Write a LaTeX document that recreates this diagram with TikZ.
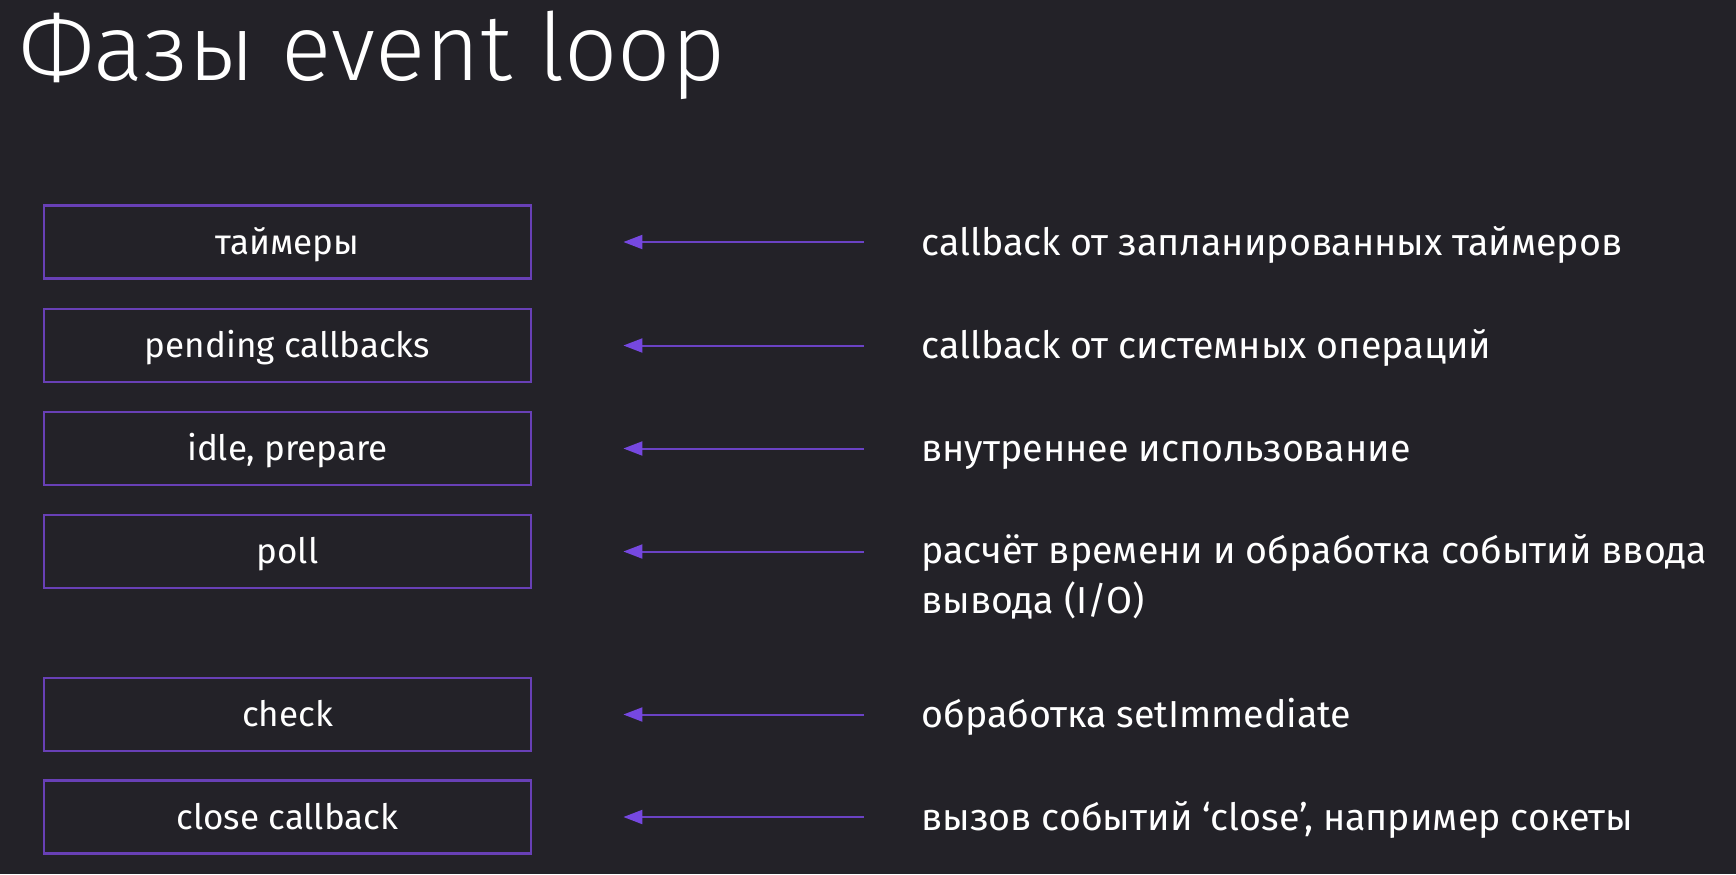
\documentclass[tikz,border=0pt]{standalone}
\usepackage{fontspec}
\setmainfont{Fira Sans}
\newfontfamily\titlefont{Fira Sans Light}
\usetikzlibrary{arrows.meta}
\definecolor{bg}{RGB}{35,34,40}
\definecolor{frame}{RGB}{104,64,182}
\definecolor{arrline}{RGB}{106,66,196}
\definecolor{arrhead}{RGB}{118,72,224}
\tikzset{
  phase/.style={draw=frame, line width=1.4pt, rectangle, inner sep=0pt,
    minimum width=243.5pt, minimum height=36.5pt, text=white,
    font=\fontsize{17.5}{21}\selectfont, text height=14pt, text depth=2pt},
  desc/.style={anchor=base west, inner sep=0pt, text=white, align=left,
    font=\fontsize{18.8}{25}\selectfont},
  arr/.style={draw=arrline, line width=1pt,
    -{Triangle[length=9.5pt,width=7pt,color=arrhead]},
    shorten <=28.5pt, shorten >=45.5pt},
}
\begin{document}
\begin{tikzpicture}[x=0.5pt,y=-0.5pt]
  \fill[bg] (0,0) rectangle (1736,874);
  \useasboundingbox (0,0) rectangle (1736,874);

  \node[anchor=base west, inner sep=0pt, text=white,
        font=\titlefont\fontsize{46.8}{55}\selectfont] (title) at (19,80) {Фазы event loop};

  % phases of the loop
  \node[phase] (b1) at (287.5,242) {таймеры};
  \node[phase] (b2) at (287.5,345.5) {pending callbacks};
  \node[phase] (b3) at (287.5,448.5) {idle, prepare};
  \node[phase] (b4) at (287.5,551.5) {poll};
  \node[phase] (b5) at (287.5,714.5) {check};
  \node[phase] (b6) at (287.5,817) {close callback};

  % what each phase handles (base of the last line)
  \node[desc] (d1) at (921,255) {callback от запланированных таймеров};
  \node[desc] (d2) at (921,358.5) {callback от системных операций};
  \node[desc] (d3) at (921,461.5) {внутреннее использование};
  \node[desc] (d4) at (921,613.5) {расчёт времени и обработка событий ввода\\вывода (I/O)};
  \node[desc] (d5) at (921,727.5) {обработка setImmediate};
  \node[desc] (d6) at (921,830) {вызов событий ‘close’, например сокеты};

  \foreach \i in {1,...,6}
    \draw[arr] (d\i.west |- b\i.east) -- (b\i.east);
\end{tikzpicture}
\end{document}
